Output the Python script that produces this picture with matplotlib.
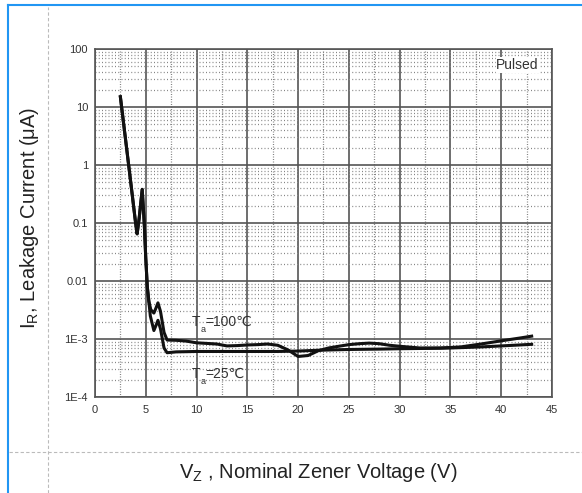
import matplotlib
matplotlib.use("Agg")
import matplotlib.pyplot as plt
from matplotlib.lines import Line2D
from matplotlib.ticker import FixedLocator, NullFormatter

plt.rcParams["font.family"] = ["Liberation Sans", "DejaVu Sans"]
plt.rcParams["mathtext.default"] = "regular"

# leakage current vs nominal zener voltage
vz_100 = [2.5, 3.0, 3.5, 4.0, 4.15, 4.35, 4.65, 4.85, 5.0, 5.15, 5.3, 5.5,
          5.8, 6.0, 6.2, 6.45, 6.8, 7.1, 8, 9, 10, 11, 12, 13, 14, 15, 16,
          17, 18, 19, 20, 21, 22, 23, 24, 25, 26, 27, 28, 29, 30, 32, 34,
          36, 38, 40, 42, 43]
ir_100 = [15, 2.85, 0.54, 0.10, 0.065, 0.12, 0.38, 0.10, 0.025, 0.008,
          0.0045, 0.0032, 0.0028, 0.0034, 0.0042, 0.003, 0.0013, 0.00096,
          0.00095, 0.00092, 0.00086, 0.00084, 0.00082, 0.00076, 0.00077,
          0.00079, 0.0008, 0.00082, 0.00078, 0.00065, 0.0005, 0.00052,
          0.00063, 0.0007, 0.00075, 0.0008, 0.00083, 0.00085, 0.00083,
          0.00078, 0.00075, 0.0007, 0.0007, 0.00073, 0.00082, 0.00093,
          0.00105, 0.00112]

vz_25 = [2.5, 3.0, 3.5, 4.0, 4.15, 4.35, 4.65, 4.85, 5.0, 5.15, 5.3, 5.45,
         5.8, 6.0, 6.2, 6.45, 6.8, 7.1, 8, 10, 12, 15, 18, 20, 22, 25, 28,
         30, 33, 35, 38, 40, 43]
ir_25 = [15, 2.85, 0.54, 0.10, 0.065, 0.12, 0.38, 0.10, 0.025, 0.008,
         0.0045, 0.0025, 0.0014, 0.0017, 0.0021, 0.0015, 0.0007, 0.00058,
         0.0006, 0.00061, 0.00061, 0.00061, 0.00061, 0.00062, 0.00064,
         0.00066, 0.00067, 0.00068, 0.00069, 0.0007, 0.00073, 0.00076,
         0.00081]

x_ticks = [0, 5, 10, 15, 20, 25, 30, 35, 40, 45]
y_ticks = [1e-4, 1e-3, 1e-2, 1e-1, 1, 10, 100]
y_labels = ["1E-4", "1E-3", "0.01", "0.1", "1", "10", "100"]

fig = plt.figure(figsize=(5.82, 4.93), dpi=100)
ax = fig.add_axes([0.1632, 0.1947, 0.7852, 0.7059])

ax.set_yscale("log")
ax.set_xlim(0, 45)
ax.set_ylim(1e-4, 100)

ax.xaxis.set_major_locator(FixedLocator(x_ticks))
ax.xaxis.set_minor_locator(FixedLocator([2.5 + 5 * i for i in range(9)]))
ax.yaxis.set_major_locator(FixedLocator(y_ticks))
ax.set_yticklabels(y_labels)
minor_y = [m * 10.0 ** e for e in range(-4, 2) for m in range(2, 10)]
ax.yaxis.set_minor_locator(FixedLocator(minor_y))
ax.yaxis.set_minor_formatter(NullFormatter())

ax.grid(which="major", color="#555555", linewidth=1.2, linestyle="-")
ax.grid(which="minor", axis="y", color="#858585", linewidth=0.9,
        linestyle=(0, (0.8, 1.8)))
ax.grid(which="minor", axis="x", color="#858585", linewidth=0.9,
        linestyle=(0, (0.8, 1.2)))
ax.set_axisbelow(True)

ax.tick_params(which="both", length=0, labelsize=8, labelcolor="#333333")
ax.tick_params(axis="y", pad=5)
ax.tick_params(axis="x", pad=6)
for s in ax.spines.values():
    s.set_color("#555555")
    s.set_linewidth(1.2)

ax.plot(vz_100, ir_100, color="#111111", linewidth=2.2, solid_joinstyle="round")
ax.plot(vz_25, ir_25, color="#111111", linewidth=2.2, solid_joinstyle="round")


def temp_label(x, y, rest):
    # "T" with a lowered small "a", then the rest on T's baseline
    t = ax.text(x, y, "T", fontsize=10, color="#333333", va="baseline", ha="left")
    a = ax.annotate("a", xy=(1, 0), xycoords=t, xytext=(0.2, -3.5),
                    textcoords="offset points", fontsize=6.5, color="#333333",
                    va="bottom", ha="left")
    ax.annotate(rest, xy=(1, 0), xycoords=(a, t), xytext=(0.2, 0),
                textcoords="offset points", fontsize=10, color="#333333",
                va="bottom", ha="left")


temp_label(9.5, 0.0017, "=100\u2103")
temp_label(9.5, 0.00021, "=25\u2103")

ax.text(43.7, 53, "Pulsed", fontsize=10, color="#333333", ha="right",
        va="center", bbox=dict(facecolor="white", edgecolor="none", pad=0.5))

fig.text(0.0515, 0.558, "$I_R$, Leakage Current (\u03bcA)", rotation=90,
         fontsize=14.5, color="#222222", ha="center", va="center")
fig.text(0.546, 0.0406, "$V_Z$ , Nominal Zener Voltage (V)", fontsize=14.5,
         color="#222222", ha="center", va="center")

# page frame from the screenshot
blue = "#2196f3"
fig.add_artist(Line2D([8 / 582, 8 / 582], [0, 1 - 5 / 493], color=blue, linewidth=1.5))
fig.add_artist(Line2D([8 / 582, 1], [1 - 5 / 493, 1 - 5 / 493], color=blue, linewidth=1.5))
fig.add_artist(Line2D([48 / 582, 48 / 582], [0, 1 - 7 / 493], color="#bbbbbb",
                      linewidth=0.8, linestyle=(0, (3, 2))))
fig.add_artist(Line2D([9 / 582, 1], [1 - 452 / 493, 1 - 452 / 493], color="#bbbbbb",
                      linewidth=0.8, linestyle=(0, (3, 2))))

fig.savefig("out.png", dpi=100, facecolor="white")
